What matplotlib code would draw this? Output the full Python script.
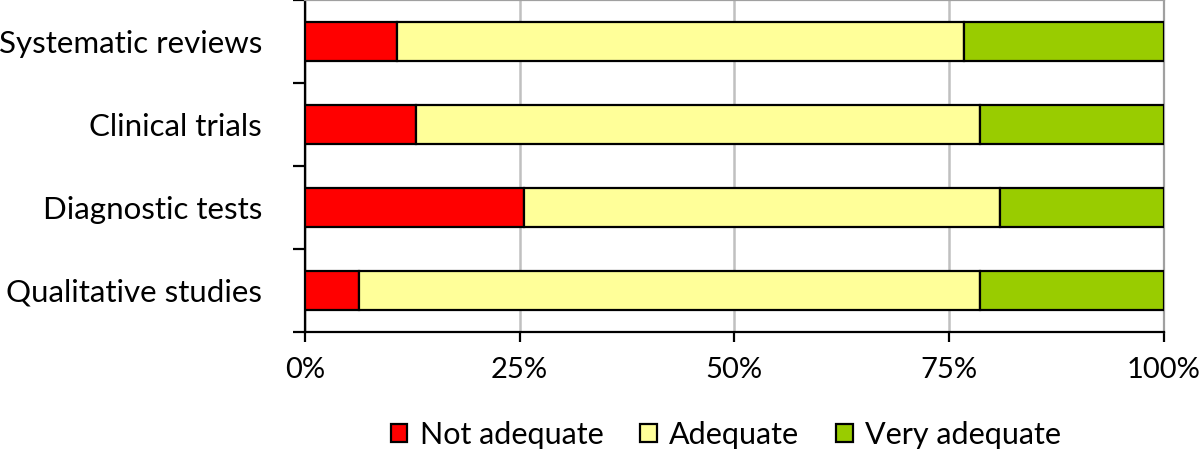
import numpy as np
import matplotlib.pyplot as plt
from matplotlib.ticker import FixedLocator, PercentFormatter

plt.rcParams['font.family'] = ['Lato', 'DejaVu Sans']

# dados (percentuais)
categories = ['Systematic reviews', 'Clinical trials', 'Diagnostic tests', 'Qualitative studies']
not_adequate = [10.7, 12.9, 25.5, 6.3]
adequate = [66.1, 65.7, 55.4, 72.3]
very_adequate = [23.2, 21.4, 19.1, 21.4]

series = ['Not adequate', 'Adequate', 'Very adequate']
colors = ['#FF0000', '#FFFF99', '#99CC00']

fig = plt.figure(figsize=(12, 4.51), dpi=100)
ax = fig.add_axes([0.2542, 0.2639, 0.7154, 0.7361])

y = np.arange(len(categories))
left = np.zeros(len(categories))
for vals, name, c in zip([not_adequate, adequate, very_adequate], series, colors):
    ax.barh(y, vals, left=left, height=0.48, color=c, edgecolor='black',
            linewidth=1.6, label=name, zorder=3)
    left += np.array(vals)

ax.set_xlim(0, 100)
ax.set_ylim(len(categories) - 0.5, -0.5)
ax.set_xticks([0, 25, 50, 75, 100])
ax.xaxis.set_major_formatter(PercentFormatter(decimals=0))
ax.grid(axis='x', color='#c0c0c0', linewidth=1.8, zorder=0)

ax.set_yticks(y)
ax.set_yticklabels(categories)
ax.yaxis.set_minor_locator(FixedLocator(np.arange(-0.5, len(categories), 1)))
ax.tick_params(axis='y', which='major', length=0, pad=31, labelsize=22.5)
ax.tick_params(axis='y', which='minor', length=9, width=1.6, color='black')
ax.tick_params(axis='x', which='major', length=7, width=1.6, pad=11, labelsize=21)

for s in ['top', 'right']:
    ax.spines[s].set_color('#a0a0a0')
    ax.spines[s].set_linewidth(1.6)
for s in ['left', 'bottom']:
    ax.spines[s].set_color('black')
    ax.spines[s].set_linewidth(1.6)

ax.legend(loc='center', bbox_to_anchor=(0.49, -0.31), ncol=3, frameon=False,
          fontsize=22, handlelength=0.55, handleheight=0.55, handletextpad=0.4,
          columnspacing=1.2)

fig.savefig('out.png', dpi=100)
